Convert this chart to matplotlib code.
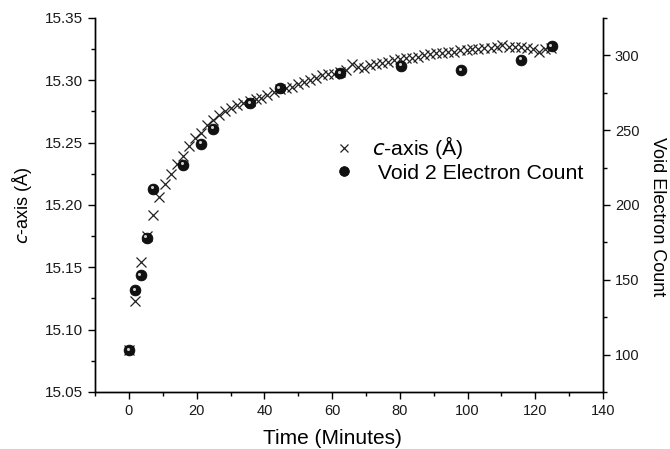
import matplotlib
matplotlib.use("Agg")
import matplotlib.pyplot as plt
from matplotlib.ticker import MultipleLocator
from matplotlib.transforms import offset_copy

plt.rcParams['font.family'] = ['Liberation Sans', 'DejaVu Sans']

# c-axis lattice parameter vs time
t_c = [0, 1.7, 3.4, 5.2, 7.1, 8.9, 10.7, 12.4, 14.2, 16.0, 17.8, 19.6, 21.3, 23.1,
       24.9, 26.7, 28.5, 30.2, 32.0, 33.8, 35.6, 37.4, 39.1, 40.9, 42.7, 44.5,
       46.3, 48.0, 49.8, 51.6, 53.4, 55.2, 56.9, 58.7, 60.5, 62.3, 64.1, 65.8,
       67.6, 69.4, 71.2, 73.0, 74.7, 76.5, 78.3, 80.1, 81.9, 83.6, 85.4, 87.2,
       89.0, 90.8, 92.5, 94.3, 96.1, 97.9, 99.7, 101.4, 103.2, 105.0, 106.8,
       108.6, 110.3, 112.1, 113.9, 115.7, 117.5, 119.2, 121.0, 122.8, 124.6]
c_axis = [15.084, 15.123, 15.154, 15.175, 15.192, 15.206, 15.217, 15.225, 15.233,
          15.239, 15.247, 15.254, 15.258, 15.264, 15.268, 15.272, 15.275, 15.278,
          15.280, 15.282, 15.283, 15.285, 15.286, 15.288, 15.291, 15.293, 15.294,
          15.295, 15.297, 15.299, 15.300, 15.302, 15.304, 15.305, 15.305, 15.307,
          15.308, 15.313, 15.311, 15.310, 15.312, 15.313, 15.314, 15.315, 15.316,
          15.317, 15.318, 15.318, 15.319, 15.320, 15.321, 15.322, 15.322, 15.323,
          15.323, 15.324, 15.324, 15.325, 15.325, 15.326, 15.326, 15.327, 15.328,
          15.327, 15.327, 15.327, 15.326, 15.325, 15.323, 15.325, 15.326]

# void 2 electron count vs time
t_void = [0, 1.7, 3.4, 5.2, 7.1, 16.0, 21.3, 24.9, 35.7, 44.5, 62.4, 80.3, 98.1, 115.9, 124.8]
void_count = [103, 143, 153, 178, 211, 227, 241, 251, 268, 278, 288, 293, 290, 297, 306]

fig = plt.figure(figsize=(6.7, 4.49), dpi=100)
ax = fig.add_axes([0.142, 0.127, 0.758, 0.833])
ax2 = ax.twinx()

h1, = ax.plot(t_c, c_axis, linestyle='none', marker='x', markersize=6.5,
              markeredgewidth=0.9, color='#222222', label='$c$-axis (Å)')
h2, = ax2.plot(t_void, void_count, linestyle='none', marker='o', markersize=7.8,
               markerfacecolor='#111111', markeredgecolor='#000000',
               markeredgewidth=0.5, label=' Void 2 Electron Count')
# highlight on the spheres
hl = offset_copy(ax2.transData, fig=fig, x=-1.2, y=1.4, units='dots')
ax2.plot(t_void, void_count, linestyle='none', marker='o', markersize=2.2,
         markerfacecolor='#d0d0d0', markeredgewidth=0, transform=hl)

ax.set_xlim(-10, 140)
ax.set_ylim(15.05, 15.35)
ax2.set_ylim(75, 325)

ax.xaxis.set_major_locator(MultipleLocator(20))
ax.xaxis.set_minor_locator(MultipleLocator(10))
ax.yaxis.set_major_locator(MultipleLocator(0.05))
ax.yaxis.set_minor_locator(MultipleLocator(0.025))
ax2.yaxis.set_major_locator(MultipleLocator(50))
ax2.yaxis.set_minor_locator(MultipleLocator(25))
ax.yaxis.set_major_formatter(plt.FormatStrFormatter('%.2f'))

for a in (ax, ax2):
    a.spines['top'].set_visible(False)
    a.tick_params(which='major', direction='out', length=5, width=1,
                  labelsize=10.5, labelcolor='#1a1a1a')
    a.tick_params(which='minor', direction='out', length=3, width=1)
    for s in a.spines.values():
        s.set_linewidth(1)
ax.tick_params(axis='y', labelsize=11)

ax.set_xlabel('Time (Minutes)', fontsize=15)
ax.xaxis.set_label_coords(0.467, -0.098)
ax.set_ylabel('$c$-axis (Å)', fontsize=13, labelpad=8)
ax2.set_ylabel('Void Electron Count', fontsize=13, rotation=270, va='center')
ax2.yaxis.set_label_coords(1.108, 0.47)

ax.legend([h1, h2], [h1.get_label(), h2.get_label()], loc='upper left',
          bbox_to_anchor=(0.457, 0.712), frameon=False, fontsize=15.3,
          handlelength=0.8, handletextpad=0.9, labelspacing=0.12, borderaxespad=0,
          markerscale=0.9)

fig.savefig('out.png', dpi=100)
